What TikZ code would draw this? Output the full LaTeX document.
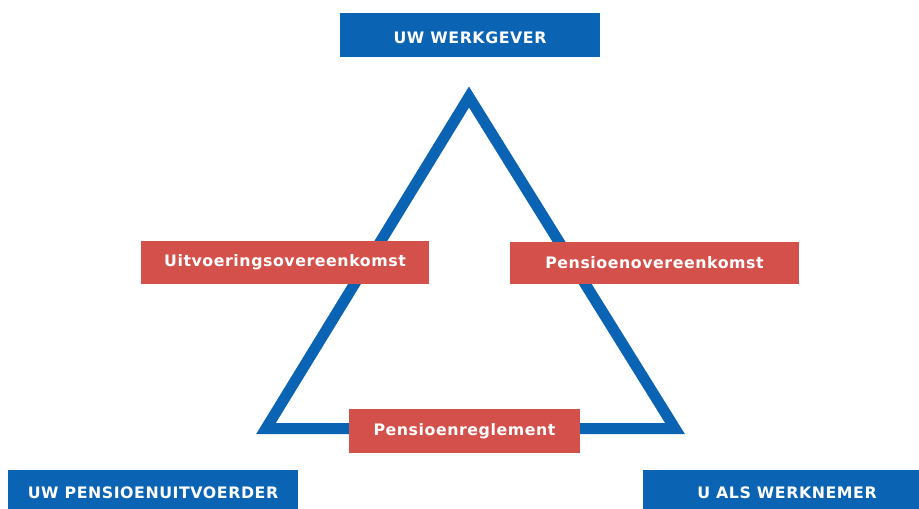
\documentclass[tikz,border=0pt]{standalone}
\usepackage{fontspec}
\setmainfont{DejaVu Sans}
\definecolor{wblue}{HTML}{0A63B3}
\definecolor{wred}{HTML}{D4504A}
\begin{document}
\begin{tikzpicture}[x=1pt,y=-1pt,
  box/.style={inner sep=0pt,outer sep=0pt,text=white,font=\fontsize{15.8}{18}\selectfont\bfseries\addfontfeatures{LetterSpace=3.5}},
  bluebox/.style={box,fill=wblue},
  redbox/.style={box,fill=wred}]
\useasboundingbox (0,0) rectangle (919,509);
% triangle
\coordinate (apex) at (469,97);
\coordinate (bl) at (266,428.5);
\coordinate (br) at (675,428.5);
\draw[wblue,line width=11pt,line join=miter] (apex) -- (br) -- (bl) -- cycle;
% blue boxes
\node[bluebox,minimum width=260pt,minimum height=44pt] (werkgever) at (470,35) {\raisebox{-2.5pt}[11.5pt][0pt]{UW WERKGEVER}};
\fill[wblue] (8,470) rectangle (298,509);
\node[box] (uitvoerder) at (153,492.5) {UW PENSIOENUITVOERDER};
\fill[wblue] (643,470) rectangle (919,509);
\node[box] (werknemer) at (787,492.5) {U ALS WERKNEMER};
% red boxes
\node[redbox,minimum width=288pt,minimum height=43pt] (uitv) at (285,262.5) {Uitvoeringsovereenkomst};
\node[redbox,minimum width=289pt,minimum height=42pt] (penov) at (654.5,263) {Pensioenovereenkomst};
\node[redbox,minimum width=231pt,minimum height=44pt] (penreg) at (464.5,431) {Pensioenreglement};
\end{tikzpicture}
\end{document}
